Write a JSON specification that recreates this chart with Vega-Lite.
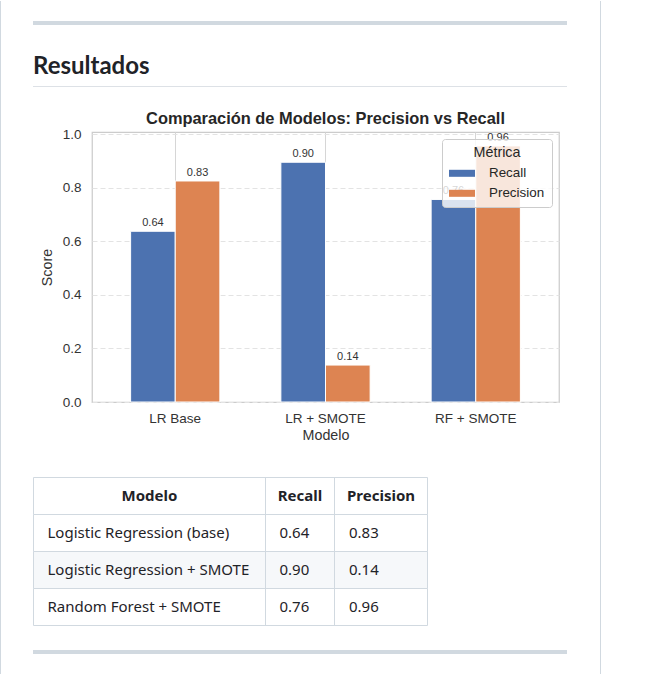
{
  "$schema": "https://vega.github.io/schema/vega-lite/v6.json",
  "background": "white",
  "padding": 0,
  "autosize": {"type": "pad"},
  "width": 467,
  "height": 270,
  "datasets": {
    "modelos": [
      {"Modelo": "Logistic Regression (base)", "Corto": "LR Base", "Recall": 0.638, "Precision": 0.826},
      {"Modelo": "Logistic Regression + SMOTE", "Corto": "LR + SMOTE", "Recall": 0.896, "Precision": 0.138},
      {"Modelo": "Random Forest + SMOTE", "Corto": "RF + SMOTE", "Recall": 0.757, "Precision": 0.957}
    ]
  },
  "title": {"text": "Comparación de Modelos: Precision vs Recall", "fontSize": 16.4, "font": "Liberation Sans", "fontWeight": "bold", "color": "#262626", "offset": -140, "baseline": "alphabetic", "anchor": "middle"},
  "config": {
    "font": "Liberation Sans",
    "view": {"stroke": "#cccccc", "strokeWidth": 1.25}
  },
  "resolve": {"scale": {"x": "independent", "y": "independent"}, "axis": {"x": "independent", "y": "independent"}},
  "layer": [
    {
      "data": {"values": [{}]},
      "mark": {"type": "rect", "fill": "transparent"},
      "encoding": {
        "x": {"datum": 0, "type": "quantitative", "scale": {"domain": [0, 654], "range": [-92, 562], "nice": false, "zero": false}, "axis": null},
        "x2": {"datum": 654},
        "y": {"datum": 0, "type": "quantitative", "scale": {"domain": [0, 674], "range": [-131, 543], "nice": false, "zero": false}, "axis": null},
        "y2": {"datum": 674}
      }
    },
    {
      "data": {"values": [{}]},
      "mark": {"type": "rule", "stroke": "#d1d9e0", "strokeWidth": 1},
      "encoding": {
        "x": {"datum": 0.5, "type": "quantitative", "scale": {"domain": [0, 654], "range": [-92, 562], "nice": false, "zero": false}, "axis": null},
        "y": {"datum": 0, "type": "quantitative", "scale": {"domain": [0, 674], "range": [-131, 543], "nice": false, "zero": false}, "axis": null},
        "y2": {"datum": 674}
      }
    },
    {
      "data": {"values": [{}]},
      "mark": {"type": "rule", "stroke": "#d1d9e0", "strokeWidth": 1},
      "encoding": {
        "x": {"datum": 600.5, "type": "quantitative", "scale": {"domain": [0, 654], "range": [-92, 562], "nice": false, "zero": false}, "axis": null},
        "y": {"datum": 0, "type": "quantitative", "scale": {"domain": [0, 674], "range": [-131, 543], "nice": false, "zero": false}, "axis": null},
        "y2": {"datum": 674}
      }
    },
    {
      "data": {"values": [{}]},
      "mark": {"type": "rule", "stroke": "#d1d9e0", "strokeWidth": 4},
      "encoding": {
        "x": {"datum": 33, "type": "quantitative", "scale": {"domain": [0, 654], "range": [-92, 562], "nice": false, "zero": false}, "axis": null},
        "x2": {"datum": 567},
        "y": {"datum": 22, "type": "quantitative", "scale": {"domain": [0, 674], "range": [-131, 543], "nice": false, "zero": false}, "axis": null}
      }
    },
    {
      "data": {"values": [{}]},
      "mark": {"type": "rule", "stroke": "#dde1e6", "strokeWidth": 1},
      "encoding": {
        "x": {"datum": 33, "type": "quantitative", "scale": {"domain": [0, 654], "range": [-92, 562], "nice": false, "zero": false}, "axis": null},
        "x2": {"datum": 567},
        "y": {"datum": 85.5, "type": "quantitative", "scale": {"domain": [0, 674], "range": [-131, 543], "nice": false, "zero": false}, "axis": null}
      }
    },
    {
      "data": {"values": [{}]},
      "mark": {"type": "rule", "stroke": "#d1d9e0", "strokeWidth": 4},
      "encoding": {
        "x": {"datum": 33, "type": "quantitative", "scale": {"domain": [0, 654], "range": [-92, 562], "nice": false, "zero": false}, "axis": null},
        "x2": {"datum": 567},
        "y": {"datum": 651, "type": "quantitative", "scale": {"domain": [0, 674], "range": [-131, 543], "nice": false, "zero": false}, "axis": null}
      }
    },
    {
      "data": {"values": [{}]},
      "mark": {"type": "text", "text": "Resultados", "font": "Lato", "fontSize": 24, "fontWeight": "bold", "color": "#1f2328", "align": "left", "baseline": "alphabetic"},
      "encoding": {
        "x": {"datum": 33, "type": "quantitative", "scale": {"domain": [0, 654], "range": [-92, 562], "nice": false, "zero": false}, "axis": null},
        "y": {"datum": 73, "type": "quantitative", "scale": {"domain": [0, 674], "range": [-131, 543], "nice": false, "zero": false}, "axis": null}
      }
    },
    {
      "data": {"values": [{}]},
      "mark": {"type": "rect", "fill": "white", "stroke": "#d1d9e0", "strokeWidth": 1},
      "encoding": {
        "x": {"datum": 33.5, "type": "quantitative", "scale": {"domain": [0, 654], "range": [-92, 562], "nice": false, "zero": false}, "axis": null},
        "x2": {"datum": 427.5},
        "y": {"datum": 476.5, "type": "quantitative", "scale": {"domain": [0, 674], "range": [-131, 543], "nice": false, "zero": false}, "axis": null},
        "y2": {"datum": 513.5}
      }
    },
    {
      "data": {"name": "modelos"},
      "mark": {"type": "rect", "stroke": "#d1d9e0", "strokeWidth": 1},
      "encoding": {
        "x": {"datum": 33.5, "type": "quantitative", "scale": {"domain": [0, 654], "range": [-92, 562], "nice": false, "zero": false}, "axis": null},
        "x2": {"datum": 427.5},
        "y": {"field": "Modelo", "type": "nominal", "sort": null, "scale": {"type": "band", "domain": ["Logistic Regression (base)", "Logistic Regression + SMOTE", "Random Forest + SMOTE"], "range": [382.5, 493.5], "paddingInner": 0, "paddingOuter": 0}, "axis": null},
        "fill": {"condition": {"test": "datum.Modelo === 'Logistic Regression + SMOTE'", "value": "#f6f8fa"}, "value": "white"}
      }
    },
    {
      "data": {"values": [{}]},
      "mark": {"type": "rule", "stroke": "#d1d9e0", "strokeWidth": 1},
      "encoding": {
        "x": {"datum": 265.5, "type": "quantitative", "scale": {"domain": [0, 654], "range": [-92, 562], "nice": false, "zero": false}, "axis": null},
        "y": {"datum": 476.5, "type": "quantitative", "scale": {"domain": [0, 674], "range": [-131, 543], "nice": false, "zero": false}, "axis": null},
        "y2": {"datum": 624.5}
      }
    },
    {
      "data": {"values": [{}]},
      "mark": {"type": "rule", "stroke": "#d1d9e0", "strokeWidth": 1},
      "encoding": {
        "x": {"datum": 334.5, "type": "quantitative", "scale": {"domain": [0, 654], "range": [-92, 562], "nice": false, "zero": false}, "axis": null},
        "y": {"datum": 476.5, "type": "quantitative", "scale": {"domain": [0, 674], "range": [-131, 543], "nice": false, "zero": false}, "axis": null},
        "y2": {"datum": 624.5}
      }
    },
    {
      "data": {"values": [{}]},
      "mark": {"type": "text", "text": "Modelo", "font": "Noto Sans", "fontSize": 15, "fontWeight": "bold", "color": "#1f2328", "align": "center", "baseline": "middle"},
      "encoding": {
        "x": {"datum": 149.5, "type": "quantitative", "scale": {"domain": [0, 654], "range": [-92, 562], "nice": false, "zero": false}, "axis": null},
        "y": {"datum": 495, "type": "quantitative", "scale": {"domain": [0, 674], "range": [-131, 543], "nice": false, "zero": false}, "axis": null}
      }
    },
    {
      "data": {"values": [{}]},
      "mark": {"type": "text", "text": "Recall", "font": "Noto Sans", "fontSize": 15, "fontWeight": "bold", "color": "#1f2328", "align": "center", "baseline": "middle"},
      "encoding": {
        "x": {"datum": 300, "type": "quantitative", "scale": {"domain": [0, 654], "range": [-92, 562], "nice": false, "zero": false}, "axis": null},
        "y": {"datum": 495, "type": "quantitative", "scale": {"domain": [0, 674], "range": [-131, 543], "nice": false, "zero": false}, "axis": null}
      }
    },
    {
      "data": {"values": [{}]},
      "mark": {"type": "text", "text": "Precision", "font": "Noto Sans", "fontSize": 15, "fontWeight": "bold", "color": "#1f2328", "align": "center", "baseline": "middle"},
      "encoding": {
        "x": {"datum": 381, "type": "quantitative", "scale": {"domain": [0, 654], "range": [-92, 562], "nice": false, "zero": false}, "axis": null},
        "y": {"datum": 495, "type": "quantitative", "scale": {"domain": [0, 674], "range": [-131, 543], "nice": false, "zero": false}, "axis": null}
      }
    },
    {
      "data": {"name": "modelos"},
      "mark": {"type": "text", "font": "Noto Sans", "fontSize": 15, "color": "#1f2328", "align": "left", "baseline": "middle"},
      "encoding": {
        "x": {"datum": 47.5, "type": "quantitative", "scale": {"domain": [0, 654], "range": [-92, 562], "nice": false, "zero": false}, "axis": null},
        "y": {"field": "Modelo", "type": "nominal", "sort": null, "scale": {"type": "band", "domain": ["Logistic Regression (base)", "Logistic Regression + SMOTE", "Random Forest + SMOTE"], "range": [382, 493], "paddingInner": 0, "paddingOuter": 0}, "axis": null},
        "text": {"field": "Modelo", "type": "nominal"}
      }
    },
    {
      "data": {"name": "modelos"},
      "mark": {"type": "text", "font": "Noto Sans", "fontSize": 15, "color": "#1f2328", "align": "left", "baseline": "middle"},
      "encoding": {
        "x": {"datum": 279.5, "type": "quantitative", "scale": {"domain": [0, 654], "range": [-92, 562], "nice": false, "zero": false}, "axis": null},
        "y": {"field": "Modelo", "type": "nominal", "sort": null, "scale": {"type": "band", "domain": ["Logistic Regression (base)", "Logistic Regression + SMOTE", "Random Forest + SMOTE"], "range": [382, 493], "paddingInner": 0, "paddingOuter": 0}, "axis": null},
        "text": {"field": "Recall", "type": "quantitative", "format": ".2f"}
      }
    },
    {
      "data": {"name": "modelos"},
      "mark": {"type": "text", "font": "Noto Sans", "fontSize": 15, "color": "#1f2328", "align": "left", "baseline": "middle"},
      "encoding": {
        "x": {"datum": 349, "type": "quantitative", "scale": {"domain": [0, 654], "range": [-92, 562], "nice": false, "zero": false}, "axis": null},
        "y": {"field": "Modelo", "type": "nominal", "sort": null, "scale": {"type": "band", "domain": ["Logistic Regression (base)", "Logistic Regression + SMOTE", "Random Forest + SMOTE"], "range": [382, 493], "paddingInner": 0, "paddingOuter": 0}, "axis": null},
        "text": {"field": "Precision", "type": "quantitative", "format": ".2f"}
      }
    },
    {
      "data": {"name": "modelos"},
      "transform": [{"fold": ["Recall", "Precision"], "as": ["Métrica", "Score"]}],
      "encoding": {
        "x": {
          "field": "Corto", "type": "nominal", "sort": ["LR Base", "LR + SMOTE", "RF + SMOTE"],
          "scale": {"type": "band", "paddingInner": 0.406, "paddingOuter": 0.257},
          "title": "Modelo",
          "axis": {"grid": true, "gridColor": "#d6d6d6", "gridWidth": 1, "bandPosition": 0.5, "ticks": false, "domain": false, "labelAngle": 0, "labelFontSize": 13.5, "labelColor": "#333333", "labelPadding": 9, "titleFontSize": 14.3, "titleFontWeight": "normal", "titleColor": "#333333", "titlePadding": 4}
        },
        "xOffset": {"field": "Métrica", "type": "nominal", "sort": ["Recall", "Precision"], "scale": {"paddingInner": 0, "paddingOuter": 0}},
        "y": {
          "field": "Score", "type": "quantitative",
          "scale": {"domain": [0, 1.009], "nice": false, "zero": true},
          "title": "Score",
          "axis": {"grid": true, "gridDash": [5, 3], "gridColor": "#e3e3e3", "values": [0, 0.2, 0.4, 0.6, 0.8, 1], "format": ".1f", "ticks": false, "domain": false, "labelFontSize": 13.5, "labelColor": "#333333", "labelPadding": 11, "titleFontSize": 14.3, "titleFontWeight": "normal", "titleColor": "#333333", "titlePadding": 8}
        }
      },
      "layer": [
        {
          "mark": {"type": "bar", "stroke": "white", "strokeWidth": 1},
          "encoding": {
            "color": {
              "field": "Métrica", "type": "nominal",
              "scale": {"domain": ["Recall", "Precision"], "range": ["#4c72b0", "#dd8452"]},
              "legend": {"orient": "top-right", "offset": 7, "title": "Métrica", "fillColor": "rgba(255,255,255,0.8)", "strokeColor": "#cccccc", "cornerRadius": 3, "padding": 7, "titleAnchor": "middle", "titleFontSize": 14.3, "titleFontWeight": "normal", "titleColor": "#262626", "titlePadding": 0, "labelFontSize": 13.4, "labelColor": "#262626", "symbolType": "M-1,-0.27L1,-0.27L1,0.27L-1,0.27Z", "symbolSize": 676, "symbolStrokeWidth": 0, "symbolOpacity": 1, "labelOffset": 14, "rowPadding": -2}
            }
          }
        },
        {
          "mark": {"type": "text", "baseline": "bottom", "dy": -3, "fontSize": 11, "color": "#333333"},
          "encoding": {"text": {"field": "Score", "type": "quantitative", "format": ".2f"}}
        }
      ]
    }
  ]
}
